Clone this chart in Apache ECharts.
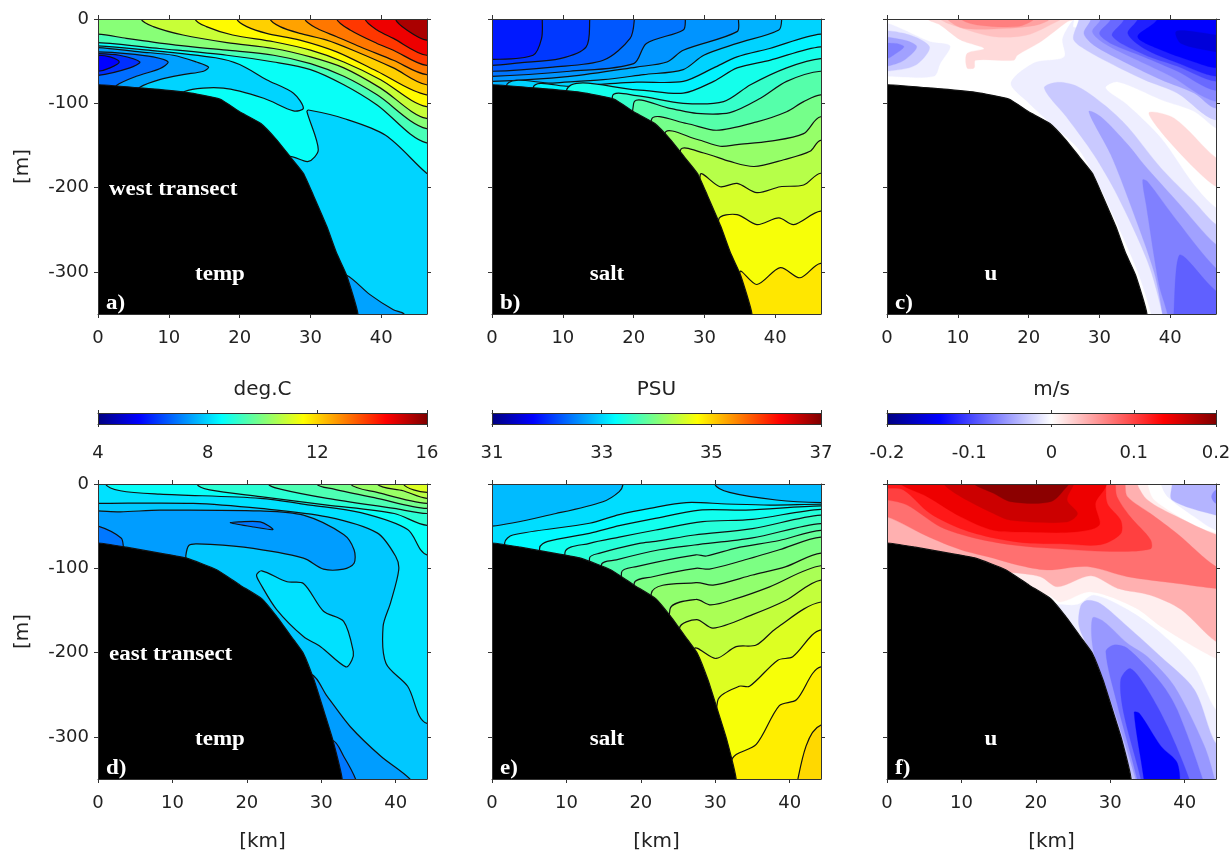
<!DOCTYPE html>
<html><head><meta charset="utf-8">
<style>html,body{margin:0;padding:0;background:#fff}#c{width:1229px;height:852px;filter:blur(0.4px)}</style>
<script src="https://cdn.jsdelivr.net/npm/echarts@6/dist/echarts.min.js"></script>
</head><body><div id="c"></div>
<script>
// ---------- tick labels / scales ----------
const xTicksWest=[0,10,20,30,40], xTicksEast=[0,10,20,30,40], depthTicks=[0,-100,-200,-300];
const xMaxWest=46.45, xMaxEast=44.2, depthMin=-350;
const tempTicks=[4,8,12,16], saltTicks=[31,33,35,37], velTicks=[-0.2,-0.1,0,0.1,0.2];
const panelTags=['a)','b)','c)','d)','e)','f)'];
const panelNames=['temp','salt','u','temp','salt','u'];
const unitNames=['deg.C','PSU','m/s'];
const transectNames=['west transect','east transect'];
// ---------- colour scales ----------
const jetPos=[0,.125,.375,.625,.875,1];
const jetCol=[[0,0,127],[0,0,255],[0,255,255],[255,255,0],[255,0,0],[127,0,0]];
const divPos=[0,.16,.5,.84,1];
const divCol=[[0,0,128],[0,0,255],[255,255,255],[255,0,0],[128,0,0]];
// ---------- sea floor (km, m) ----------
const floorWest=[[0,-78],[6.4,-82],[12.5,-87],[17.2,-95],[20,-110],[23,-124],[25.2,-143],[27.1,-163],[29,-183],[30.4,-209],[32.3,-246],[33.7,-278],[35.1,-304],[36.7,-350]];
const floorEast=[[0,-70],[3.8,-75],[8.3,-82],[11.9,-88],[16,-102],[19.1,-120],[22,-136],[24,-157],[26.3,-185],[27.6,-201],[29,-232],[30.3,-268],[31.5,-302],[32.8,-350]];
// ---------- a) west temp contours (km, m) ----------
const aBaseVal=8.6;
const aDeep=[[47,-183],[46.4,-183],[40.6,-138],[34.7,-118],[29.7,-108],[29.5,-110],[31.1,-155],[29.7,-169],[27.1,-163],[25,-170],[25,-360],[47,-360]];
const aLobe=[[-5,-32],[0,-32],[5.9,-36],[16.6,-46],[20,-54],[23.8,-72],[27.6,-88],[29,-106],[27.6,-109],[23.4,-94],[17.7,-82],[12.2,-86],[12,-100],[-5,-100]];
const aCore1=[[-5,-34],[0,-34],[5.9,-39],[10.6,-43],[13.9,-51],[15.6,-57],[14.9,-62],[12,-66],[8.7,-72],[5.9,-81],[5,-90],[-5,-90]];
const aCore2=[[-5,-39],[0,-39],[4,-41],[7.8,-45],[9.9,-51],[8.7,-59],[5.4,-68],[2.6,-79],[2,-90],[-5,-90]];
const aCore3=[[-5,-41],[0,-41],[3,-43],[5.9,-51],[4.5,-58],[0,-67],[-5,-67]];
const aCore4=[[-5,-43],[0,-43],[1.7,-45],[3,-51],[1.7,-58],[0,-62],[-5,-62]];
const aBottom=[[35.1,-304],[38.4,-327],[41.7,-345],[43.2,-350],[43.2,-360],[33,-360],[33,-304]];
const a10=[[0,-28],[8.7,-35],[18.2,-43],[24.8,-51],[30,-60],[34.7,-78],[39.4,-102],[46.4,-147]];
const a09=[[0,-18],[4,-23],[11,-31],[18.2,-37],[24.8,-43],[30,-53],[34.7,-68],[39.4,-90],[46.4,-130]];
const a08=[[6.1,0],[7.8,-9],[12,-19],[18.2,-28],[24.8,-35],[30,-45],[34.7,-58],[39.9,-82],[46.4,-118]];
const a07=[[13.7,0],[15.3,-9],[19,-19],[24.8,-27],[30,-37],[34.7,-51],[39.9,-72],[46.4,-104]];
const a06=[[19.6,0],[21,-9],[23.8,-17],[28.5,-25],[33.7,-39],[39.4,-62],[46.4,-90]];
const a05=[[24.3,0],[25.7,-9],[28.5,-17],[32.3,-25],[36,-37],[41.7,-58],[46.4,-78]];
const a04=[[29.2,0],[30.9,-11],[33.7,-21],[37,-33],[41.7,-49],[46.4,-66]];
const a03=[[33.7,0],[35.6,-13],[39.4,-29],[41.7,-37],[46.4,-55]];
const a02=[[37.7,0],[39.4,-13],[41.7,-23],[46.4,-43]];
const a01=[[42,0],[43.6,-13],[46.4,-25]];
const aVals=[8,8,7.4,6.8,6.05,5.5,7.4,9.35,10.1,10.85,11.55,12.05,12.6,13.1,13.85,14.7,15.5];
// ---------- b) west salt contours ----------
const bBaseVal=31.9;
const b01=[[7.1,0],[7,-23],[5.8,-43],[0,-48]];
const b02=[[13.8,0],[13.3,-33],[9.6,-47],[3.9,-52],[0,-55]];
const b03=[[20.1,0],[19.5,-23],[15.7,-49],[8.6,-57],[0,-62]];
const b04=[[27.3,0],[27,-13],[21.8,-29],[20,-53],[11,-62],[0,-68]];
const b05=[[34.8,0],[34.6,-15],[27,-37],[24.7,-51],[20.4,-57],[11,-68],[0,-74]];
const b06=[[40.9,0],[40.5,-13],[34.6,-29],[29.9,-43],[27,-60],[21.4,-66],[15.7,-72],[8.6,-76],[2,-80]];
const b07=[[46.4,-18],[39.2,-35],[34.6,-45],[31.3,-58],[27,-74],[20.4,-75],[11,-80],[5.8,-82]];
const b08=[[46.4,-33],[39.2,-49],[34.6,-58],[31.3,-74],[27,-88],[20.4,-84],[10.5,-85]];
const b09=[[46.4,-47],[41.6,-58],[36.5,-78],[32.7,-98],[27,-100],[20.4,-91],[17,-92]];
const b10=[[46.4,-62],[41.6,-74],[37.9,-94],[33.6,-111],[28.9,-112],[25.1,-106],[20,-100]];
const b11=[[46.4,-90],[44,-98],[41.6,-110],[37.4,-122],[31.7,-132],[27.5,-124],[22.5,-120]];
const b12=[[46.4,-116],[44,-136],[39.3,-145],[34.6,-149],[32.2,-151],[29,-143],[24.4,-136]];
const b13=[[46.4,-144],[44.9,-157],[41.2,-167],[37,-175],[33.6,-169],[29.9,-159],[26.6,-156]];
const b14=[[46.4,-183],[44,-197],[40.7,-199],[37.4,-206],[34.6,-195],[32.2,-199],[29.4,-185]];
const b15=[[46.4,-228],[42.6,-244],[40.5,-236],[37.4,-244],[34.6,-232],[32,-238]];
const b16=[[46.4,-290],[43.5,-307],[40.7,-295],[37.4,-315],[35,-300]];
const bVals=[32.08,32.26,32.44,32.62,32.8,32.99,33.18,33.37,33.56,33.75,33.94,34.13,34.32,34.51,34.7,34.89];
// ---------- c) west velocity bands ----------
const cBand1L=[[0,-5],[2.4,-13],[6.1,-27],[8.9,-32],[7.5,-53],[6.6,-68],[0,-68],[-2,-68],[-2,-5]];
const cBand2L=[[-2,-17],[2.4,-17],[6,-33],[4,-55],[0,-62],[-2,-62]];
const cBand3L=[[-2,-23],[2.4,-25],[4.2,-33],[2.4,-49],[0,-56],[-2,-56]];
const cBand4L=[[-2,-31],[1.2,-29],[2.4,-33],[.9,-43],[0,-47],[-2,-47]];
const cPale=[[26.4,0],[24.8,-23],[25,-45],[20.8,-52],[17.5,-76],[19.8,-98],[23.1,-124],[26.9,-153],[29.2,-185],[32.1,-236],[35.4,-300],[37.3,-350],[37.3,-360],[48,-360],[48,-10],[26.4,-10]];
const cTongue=[[30.9,-82],[32.6,-75],[38.7,-96],[43.4,-110],[46.5,-130],[48,-130],[48,-224],[46.5,-224],[43.4,-197],[38.7,-141],[34,-102]];
const cPink=[[37,-111],[40.6,-118],[46.5,-165],[48,-165],[48,-199],[46.5,-199],[43.4,-177],[38.7,-134]];
const cWedge1=[[22.2,-82],[24.1,-75],[26.9,-80],[30.7,-102],[34,-128],[38.7,-177],[43.4,-217],[46.5,-244],[48,-244],[48,-360],[38.9,-360],[38.9,-350],[36.8,-288],[32.5,-209],[29.2,-161],[25.5,-118]];
const cWedge2=[[28.5,-110],[30.2,-116],[34,-149],[36.3,-173],[41,-217],[46.5,-268],[48,-268],[48,-360],[38.9,-360],[38.9,-350],[37.7,-300],[34.4,-221],[31.6,-161]];
const cWedge3=[[36.1,-191],[36.8,-193],[41,-240],[46.5,-296],[48,-296],[48,-360],[39.6,-360],[39.6,-350],[38.4,-315],[36.6,-221]];
const cWedge4=[[41.3,-280],[42.2,-284],[46.5,-323],[48,-323],[48,-360],[40.5,-360],[40.5,-350],[40.8,-300]];
const cTop1=[[27.1,0],[26.3,-23],[27.4,-33],[30.7,-49],[36.3,-72],[41,-88],[46.5,-120]];
const cTop2=[[28.8,0],[27.8,-17],[29.2,-31],[34,-53],[38.7,-72],[43.4,-88],[46.5,-106]];
const cTop3=[[30.2,0],[29,-15],[30.7,-29],[35.4,-49],[40.1,-68],[46.5,-98]];
const cTop4=[[31.6,0],[30,-17],[31.6,-29],[36.3,-45],[41,-62],[46.5,-85]];
const cTop5=[[33.5,0],[31.8,-20],[36.3,-42],[41,-56],[46.5,-74]];
const cTop6=[[35.4,0],[34,-17],[36.3,-35],[41,-52],[46.5,-68]];
const cTop7=[[38.2,0],[35.4,-21],[38.2,-35],[43.4,-51],[46.5,-58]];
const cTop8=[[40.8,-15],[43.4,-15],[46.5,-19],[48,-19],[48,-39],[46.5,-39],[41.5,-29]];
const cRed1=[[5.7,0],[7.5,-7],[10.4,-25],[13.7,-35],[11.3,-41],[11.3,-58],[12.3,-58],[12.5,-49],[17.9,-49],[18.4,-43],[21.7,-27],[25.5,-3],[26.4,0],[26.4,10],[5.7,10]];
const cRed2=[[7.5,0],[9.9,-9],[15.1,-21],[19.8,-19],[24,-3],[24.5,0],[24.5,10],[7.5,10]];
const cRed3=[[8.5,0],[10.8,-11],[17,-11],[21.2,-7],[23,0],[23,10],[8.5,10]];
const cRed4=[[10.4,0],[12.7,-7],[18.4,-9],[20.8,0],[20.8,10],[10.4,10]];
const cVals=[-.009,-.029,-.05,-.068,-.009,0,.02,-.029,-.05,-.068,-.085,-.029,-.05,-.0635,-.08,-.098,-.119,-.136,-.155,.02,.033,.05,.068];
// ---------- d) east temp contours ----------
const dBaseVal=8.15;
const dL1=[[0,-23],[12.8,-23],[21.8,-29],[30.8,-39],[37.5,-58],[40,-86],[40.4,-102],[39.3,-141],[38.3,-169],[38.7,-213],[41.6,-240],[44.2,-284]];
const dLobe=[[-2,-32],[0,-32],[3,-33],[8.3,-31],[21.8,-32],[27.6,-37],[33,-60],[34.4,-78],[34.4,-94],[33,-101],[30.3,-101],[27.6,-88],[19.6,-75],[13.3,-71],[12.2,-73],[11.8,-85],[11.8,-100],[-2,-100]];
const dLens=[[17.8,-46],[18.9,-45],[21.8,-45],[23.5,-54],[20.9,-51]];
const dCorner=[[-2,-50],[0,-50],[3.1,-64],[3.4,-74],[3.4,-90],[-2,-90]];
const dTongue=[[21.3,-108],[22,-103],[25.4,-116],[27.6,-118],[30.3,-151],[33,-163],[34.3,-199],[34.1,-209],[33.3,-217],[29.9,-193],[27.6,-181],[24,-149],[21.8,-118]];
const dLow1=[[28.5,-225],[30.8,-252],[33.9,-288],[38,-323],[41.9,-350],[41.9,-360],[20,-360],[20,-225]];
const dLow2=[[31.5,-304],[33,-323],[34.6,-350],[34.6,-360],[25,-360],[25,-304]];
const dL0=[[1,0],[3,-8],[8.3,-12],[21.8,-17],[28.5,-25],[35.3,-34],[41.6,-54],[44.2,-84]];
const dT1=[[13.3,0],[15,-7],[21.8,-15],[30.8,-25],[39.8,-35],[44.2,-49]];
const dT2=[[22.9,0],[24.5,-6],[30.8,-17],[39.8,-29],[44.2,-35]];
const dT3=[[29.4,0],[31.7,-6],[37.5,-17],[44.2,-29]];
const dT4=[[33.9,0],[37.5,-10],[44.2,-23]];
const dT5=[[37.5,0],[41,-8],[44.2,-17]];
const dT6=[[41,0],[44.2,-10]];
const dVals=[7.85,7.35,6.9,6.9,8.15,7.35,6.9,8.6,9.0,9.4,9.85,10.3,10.7,11.1];
// ---------- e) east salt contours ----------
const eBaseVal=32.85;
const e01=[[17.6,0],[17.1,-9],[14.9,-21],[8.6,-35],[0,-50]];
const e02=[[1.7,-70],[2.8,-60.5],[13.1,-46.6],[17.1,-36.3],[21.2,-28.9],[26.1,-22],[31.5,-23.7],[37.3,-25],[44.2,-24]];
const e03=[[6.4,-76],[7.5,-68],[13.1,-58.5],[17.1,-49.3],[21.6,-41.4],[27.9,-31],[34.1,-31],[44.2,-26]];
const e04=[[9.8,-81.5],[13.1,-70.4],[17.1,-63],[22,-54.6],[28.3,-44.7],[35,-42],[44.2,-30]];
const e05=[[13.1,-88],[14.5,-82],[19.8,-70.4],[22,-68],[27.2,-60.5],[35,-53],[44.2,-37]];
const e06=[[14.7,-96],[16.7,-90],[22.5,-78],[27.2,-72.4],[35,-64],[44.2,-47]];
const e07=[[17.4,-105],[19.4,-98],[27.4,-84],[28.8,-85.4],[32.8,-76],[38.6,-67],[44.2,-55]];
const e08=[[19.1,-118],[21.6,-110],[27.4,-100],[29.2,-101],[33.2,-92],[38.6,-78],[44.2,-63]];
const e09=[[21.4,-130],[27.4,-117],[29.7,-120],[35,-108],[39.5,-98],[44.2,-82]];
const e10=[[23.9,-149],[27.4,-137],[29.4,-143.5],[32.8,-136],[37.3,-122],[44.2,-97]];
const e11=[[25.2,-171],[27.5,-161],[29.7,-171],[35,-155],[39.5,-138],[44.2,-114]];
const e12=[[27.2,-196],[30.1,-207],[32.8,-193],[35.5,-191],[38.2,-171],[44.2,-140]];
const e13=[[30.3,-258],[33.2,-240],[34.6,-240],[38.4,-209],[40.4,-205],[44.2,-173]];
const e14=[[32.1,-331],[32.8,-321],[35.5,-309],[38.6,-263],[40.9,-256],[44.2,-217]];
const e15=[[41.1,-350],[44.2,-286]];
const eIsland=[[29.9,0],[31.9,-10],[38.2,-19],[44.2,-22]];
const eVals=[33.05,33.22,33.35,33.47,33.6,33.72,33.85,33.98,34.1,34.25,34.4,34.55,34.7,34.85,34.98,32.85];
// ---------- f) east velocity bands ----------
const fA=[[21.7,-132],[23.3,-140],[27.4,-128],[33.4,-147],[36.8,-169],[44.2,-207],[46,-207],[46,-58],[44.2,-58],[41.3,-49],[35.9,-19],[35,0],[35,10],[-2,10],[-2,-100],[21,-140]];
const fB=[[16.5,-105],[20.6,-110],[22.9,-122],[27.4,-109],[31,-124],[35.4,-132],[39.5,-149],[44.2,-187],[46,-187],[46,-60],[44.2,-60],[39,-39],[35,-19],[33.6,0],[33.6,10],[-2,10],[-2,-95]];
const fC=[[0,-39],[5.4,-62],[9.9,-78],[14.3,-88],[17.5,-96],[21.5,-102],[26.9,-98],[32.3,-110],[39,-118],[44.2,-124],[46,-124],[46,-98],[44.2,-98],[39,-59],[35.4,-35],[32.3,-15],[32,0],[32,10],[-2,10],[-2,-39]];
const fD=[[0,-19],[2.7,-25],[7.2,-51],[11.7,-64],[16.6,-72],[21.5,-76],[30,-80],[35.4,-77],[35.4,-66],[32.7,-39],[30.9,-15],[30.7,0],[30.7,10],[-2,10],[-2,-19]];
const fE=[[0,-5],[2.2,-7],[5.8,-35],[9.9,-53],[14.3,-64],[18.8,-70],[23.3,-71],[28.7,-72],[31.4,-59],[31.4,-43],[29.6,-23],[29.4,0],[29.4,10],[-2,10],[-2,-5]];
const fF=[[1.8,0],[5.4,-15],[9.9,-39],[14.3,-55],[18.8,-57],[25.1,-57],[28.5,-49],[28,-23],[29.4,-3],[29.4,10],[1.8,10]];
const fG=[[7.6,0],[9.9,-15],[14.3,-35],[16.6,-43],[24.2,-45],[25.6,-35],[24.2,-19],[25.1,0],[25.1,10],[7.6,10]];
const fH=[[11.7,0],[14.3,-11],[16.6,-21],[22,-21],[24.2,-3],[24.4,0],[24.4,10],[11.7,10]];
const fCap1=[[36.8,0],[37.7,-15],[41.3,-39],[44.2,-55],[46,-55],[46,10],[36.8,10]];
const fCap2=[[38.3,0],[38.3,-19],[44.2,-37],[46,-37],[46,10],[38.3,10]];
const fCap3=[[46,-7],[44.2,-7],[43.6,-15],[44.2,-23],[46,-23]];
const fLow1=[[22.9,-143],[25.6,-143],[27.8,-132],[32.3,-149],[36.8,-177],[41.3,-217],[44.2,-268],[46,-268],[46,-360],[32.7,-360],[21,-143]];
const fLow2=[[26,-145],[26.9,-138],[28.7,-142],[32.3,-169],[36.8,-205],[41.3,-244],[44.2,-308],[46,-308],[46,-360],[33,-360],[33,-350],[30,-268],[27.4,-201],[25.8,-169]];
const fLow3=[[27.6,-159],[29.1,-163],[32.3,-189],[35,-205],[38.6,-240],[42.6,-310],[44,-350],[44,-360],[33.4,-360],[33.4,-350],[30.5,-268],[27.8,-201]];
const fLow4=[[29.4,-199],[30.5,-191],[32.3,-195],[36.8,-236],[39,-268],[42.4,-350],[42.4,-360],[33.6,-360],[33.6,-350],[30.9,-260]];
const fLow5=[[31.4,-232],[32.7,-219],[35,-244],[37.7,-288],[40.6,-350],[40.6,-360],[34.1,-360],[34.1,-350],[31.8,-272]];
const fLow6=[[33.2,-271],[33.9,-272],[36.8,-311],[39,-331],[39,-360],[34.5,-360],[34.5,-350]];
const fVals=[.009,.042,.076,.102,.123,.1445,.1615,.194,-.009,-.04,-.0635,-.009,-.035,-.055,-.076,-.098,-.136];

// ---------- helpers: colour lookup and closing a contour into a band ----------
function colorOf(v,lo,hi,pos,col){
  const t=Math.max(0,Math.min(1,(v-lo)/(hi-lo)));let i=0;
  while(i<pos.length-2&&t>pos[i+1])i++;
  const f=(t-pos[i])/(pos[i+1]-pos[i]);
  return 'rgb('+col[i].map((c,k)=>Math.round(c+(col[i+1][k]-c)*f)).join(',')+')';
}
const TOPY=30,FARX=60,LOWY=-420;
const above=p=>{const f=p[0],l=p[p.length-1];
  return p.concat([[FARX,l[1]],[FARX,TOPY]],f[1]===0?[[f[0],TOPY]]:[[-10,TOPY],[-10,f[1]]]);};
const below=q=>{const p=q[0][0]<q[q.length-1][0]?q.slice().reverse():q;const f=p[0],l=p[p.length-1];
  return p.concat(l[0]===0?[[-10,l[1]],[-10,LOWY]]:[[l[0],LOWY]],[[FARX,LOWY]],f[1]===0?[[FARX,TOPY],[f[0],TOPY]]:[[FARX,f[1]]]);};
const full=[[-10,TOPY],[FARX,TOPY],[FARX,LOWY],[-10,LOWY]];
const floorPoly=s=>s.concat([[s[s.length-1][0],LOWY],[-10,LOWY],[-10,s[0][1]]]);

const jetT=v=>colorOf(v,4,16,jetPos,jetCol), jetS=v=>colorOf(v,31,37,jetPos,jetCol), divU=v=>colorOf(v,-.2,.2,divPos,divCol);
function bands(base,shapes,vals,cf,floor){
  const out=[{pts:full,fill:cf(base),flat:true}];
  shapes.forEach((s,i)=>out.push({pts:s,fill:cf(vals[i])}));
  out.push({pts:floorPoly(floor),fill:'#000',black:true});
  return out;
}
const panels=[
 {xMax:xMaxWest,xt:xTicksWest,lines:true,layers:bands(aBaseVal,[aDeep,aLobe,aCore1,aCore2,aCore3,aCore4,aBottom,above(a10),above(a09),above(a08),above(a07),above(a06),above(a05),above(a04),above(a03),above(a02),above(a01)],aVals,jetT,floorWest)},
 {xMax:xMaxWest,xt:xTicksWest,lines:true,layers:bands(bBaseVal,[b01,b02,b03,b04,b05,b06,b07,b08,b09,b10,b11,b12,b13,b14,b15,b16].map(below),bVals,jetS,floorWest)},
 {xMax:xMaxWest,xt:xTicksWest,lines:false,layers:bands(0,[cBand1L,cBand2L,cBand3L,cBand4L,cPale,cTongue,cPink,cWedge1,cWedge2,cWedge3,cWedge4,above(cTop1),above(cTop2),above(cTop3),above(cTop4),above(cTop5),above(cTop6),above(cTop7),cTop8,cRed1,cRed2,cRed3,cRed4],cVals,divU,floorWest)},
 {xMax:xMaxEast,xt:xTicksEast,lines:true,layers:bands(dBaseVal,[below(dL1),dLobe,dLens,dCorner,dTongue,dLow1,dLow2,above(dL0),above(dT1),above(dT2),above(dT3),above(dT4),above(dT5),above(dT6)],dVals,jetT,floorEast)},
 {xMax:xMaxEast,xt:xTicksEast,lines:true,layers:bands(eBaseVal,[e01,e02,e03,e04,e05,e06,e07,e08,e09,e10,e11,e12,e13,e14,e15].map(below).concat([above(eIsland)]),eVals,jetS,floorEast)},
 {xMax:xMaxEast,xt:xTicksEast,lines:false,layers:bands(0,[fA,fB,fC,fD,fE,fF,fG,fH,fCap1,fCap2,fCap3,fLow1,fLow2,fLow3,fLow4,fLow5,fLow6],fVals,divU,floorEast)}
];
// ---------- layout ----------
const colLeft=[98,492,887], rowTop=[19,484], W=329, H=295, barTop=413, barH=11;
const nameOffset=[122,115,104];
const AX='#333', TXT='#222', FONT='"DejaVu Sans",sans-serif', FS=18, SERIF='"Liberation Serif",serif';
const grid=[],xAxis=[],yAxis=[],series=[],graphic=[];
const line={show:true,onZero:false,lineStyle:{color:AX,width:1}};
function addAxes(g,xOpt,yOpt,xTop,yRight){
  const nm={fontFamily:FONT,fontSize:20,color:TXT};
  xAxis.push(Object.assign({gridIndex:g,type:'value',position:'bottom',z:6,splitLine:{show:false},axisLine:line,nameTextStyle:nm},xOpt));
  xAxis.push({gridIndex:g,type:'value',position:'top',z:6,min:xOpt.min,max:xOpt.max,splitLine:{show:false},axisLine:line,axisLabel:{show:false},axisTick:xTop});
  yAxis.push(Object.assign({gridIndex:g,type:'value',position:'left',z:6,splitLine:{show:false},axisLine:line,nameTextStyle:nm},yOpt));
  yAxis.push({gridIndex:g,type:'value',position:'right',z:6,min:yOpt.min,max:yOpt.max,splitLine:{show:false},axisLine:line,axisLabel:{show:false},axisTick:yRight});
}
const ticks=(vals,len)=>({show:true,inside:false,length:len,customValues:vals,lineStyle:{color:AX,width:1}});
const labels=(vals,margin)=>({show:true,customValues:vals,margin,color:TXT,fontFamily:FONT,fontSize:FS,hideOverlap:false});
const whiteText=(s,x,y,al)=>graphic.push({type:'text',z:20,x,y,scaleX:1.15,silent:true,style:{text:s,fill:'#fff',font:'bold 20px '+SERIF,textAlign:al||'left',textVerticalAlign:'middle'}});
panels.forEach((p,i)=>{
  const col=i%3,row=i<3?0:1,g=grid.length;
  grid.push({left:colLeft[col],top:rowTop[row],width:W,height:H,outerBoundsMode:'none'});
  const xo={min:0,max:p.xMax,axisTick:ticks(p.xt,4),axisLabel:labels(p.xt,15)};
  if(row===1){xo.name='[km]';xo.nameLocation='middle';xo.nameGap=53;}
  addAxes(g,xo,{min:depthMin,max:0,axisTick:ticks(depthTicks,4),
    axisLabel:col===0?labels(depthTicks,9):{show:false},
    name:col===0?'[m]':'',nameLocation:'middle',nameGap:65},ticks(p.xt,4),ticks(depthTicks,4));
  series.push({type:'custom',xAxisIndex:2*g,yAxisIndex:2*g,clip:true,silent:true,z:2,
    data:p.layers.map((_,k)=>[k]),
    renderItem:(params,api)=>{const l=p.layers[params.dataIndex];
      const dark=p.lines||l.black;
      return {type:'polygon',shape:{points:l.pts.map(q=>api.coord(q)),smooth:l.flat?0:(l.black?0.15:0.3)},
        style:{fill:l.fill,stroke:dark?'#111':l.fill,lineWidth:dark?1.2:0.3}};}});
  const tx=colLeft[col], ty=rowTop[row];
  whiteText(panelNames[i],tx+nameOffset[col],ty+256,'center');
  whiteText(panelTags[i],tx+8,ty+285);
  if(col===0) whiteText(transectNames[row],tx+11,ty+171);
});
// ---------- colour bars ----------
const barDefs=[[4,16,tempTicks,jetPos,jetCol],[31,37,saltTicks,jetPos,jetCol],[-.2,.2,velTicks,divPos,divCol]];
barDefs.forEach((b,i)=>{
  const g=grid.length;
  grid.push({left:colLeft[i],top:barTop,width:W,height:barH,outerBoundsMode:'none'});
  addAxes(g,{min:b[0],max:b[1],axisTick:ticks(b[2],3),axisLabel:labels(b[2],20)},
    {min:0,max:1,axisTick:{show:false},axisLabel:{show:false}},ticks(b[2],3),{show:false});
  const stops=b[3].map((o,k)=>({offset:o,color:'rgb('+b[4][k].join(',')+')'}));
  series.push({type:'custom',xAxisIndex:2*g,yAxisIndex:2*g,silent:true,z:2,data:[[b[0],b[1]]],
    encode:{x:[0,1]},
    renderItem:(params,api)=>{const a=api.coord([api.value(0),1]),c=api.coord([api.value(1),0]);
      return {type:'rect',shape:{x:a[0],y:a[1],width:c[0]-a[0],height:c[1]-a[1]},
        style:{fill:new echarts.graphic.LinearGradient(0,0,1,0,stops)}};}});
  graphic.push({type:'text',z:20,x:colLeft[i]+W/2,y:390,silent:true,style:{text:unitNames[i],fill:TXT,font:'20px '+FONT,textAlign:'center',textVerticalAlign:'middle'}});
});
const chart=echarts.init(document.getElementById('c'),null,{renderer:'canvas'});
chart.setOption({animation:false,backgroundColor:'#fff',grid,xAxis,yAxis,series,graphic});
</script>
</body></html>
